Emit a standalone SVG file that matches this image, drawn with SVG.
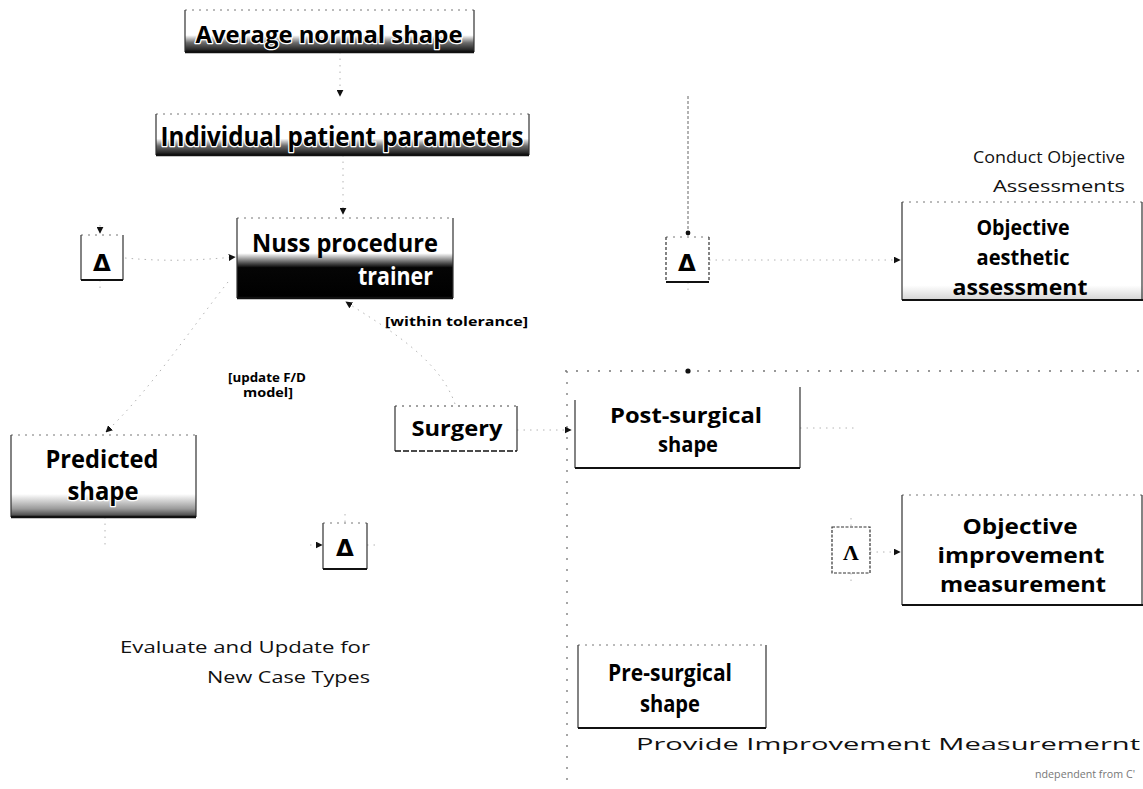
<svg xmlns="http://www.w3.org/2000/svg" width="1143" height="789" viewBox="0 0 1143 789">
  <style>
    .box-fill { stroke: none; }
    .box-top { fill: none; stroke: #777; stroke-width: 1; stroke-dasharray: 2 5; }
    .box-side { fill: none; stroke: #333; stroke-width: 1.2; }
    .box-base { fill: none; stroke: #111; stroke-width: 2.6; }
    .lbl { font-family: "Open Sans", "Liberation Sans", sans-serif; font-weight: 700; fill: #000; text-anchor: middle; }
    .halo { stroke: #fff; stroke-width: 2.5; paint-order: stroke; stroke-linejoin: round; }
    .inv { fill: #fff; text-anchor: end; }
    .note { font-family: "Open Sans", "DejaVu Sans", sans-serif; font-size: 17px; fill: #111; text-anchor: end; }
    .tiny { font-size: 10px; fill: #777; }
    .cond { font-family: "Open Sans", "Liberation Sans", sans-serif; font-weight: 700; font-size: 12px; fill: #000; }
    .delta { font-family: "DejaVu Sans", sans-serif; font-weight: 700; font-size: 23px; fill: #000; text-anchor: middle; }
    .edge { fill: none; stroke: #b4b4b4; stroke-width: 1; stroke-dasharray: 1.5 5; }
    .edge-solid { fill: none; stroke: #666; stroke-width: 1; stroke-dasharray: 3 2; }
    .frame { fill: none; stroke: #777; stroke-width: 1.3; stroke-dasharray: 2 9; }
  </style>
  <defs>
    <linearGradient id="darkBase" x1="0" y1="0" x2="0" y2="1">
      <stop offset="0" stop-color="#fff"/>
      <stop offset="0.6" stop-color="#fff"/>
      <stop offset="0.78" stop-color="#6a6a6a"/>
      <stop offset="1" stop-color="#111"/>
    </linearGradient>
    <linearGradient id="lightBase" x1="0" y1="0" x2="0" y2="1">
      <stop offset="0" stop-color="#fff"/>
      <stop offset="0.72" stop-color="#fff"/>
      <stop offset="0.9" stop-color="#9a9a9a"/>
      <stop offset="1" stop-color="#3a3a3a"/>
    </linearGradient>
    <linearGradient id="halfDark" x1="0" y1="0" x2="0" y2="1">
      <stop offset="0" stop-color="#fff"/>
      <stop offset="0.44" stop-color="#fff"/>
      <stop offset="0.56" stop-color="#555"/>
      <stop offset="0.62" stop-color="#050505"/>
      <stop offset="1" stop-color="#000"/>
    </linearGradient>
    <linearGradient id="faintBase" x1="0" y1="0" x2="0" y2="1">
      <stop offset="0" stop-color="#fff"/>
      <stop offset="0.85" stop-color="#fff"/>
      <stop offset="1" stop-color="#d4d4d4"/>
    </linearGradient>
    <marker id="tip" viewBox="0 0 10 10" refX="9" refY="5" markerWidth="7" markerHeight="7" orient="auto-start-reverse">
      <path d="M0,0 L10,5 L0,10 z" fill="#111"/>
    </marker>
  </defs>

  <!-- dotted frame around the measurement area -->
  <g id="measure-frame">
    <path class="frame" d="M565,371 H1143"/>
    <path class="frame" d="M567,371 V782"/>
    <circle cx="688" cy="371" r="2.6" fill="#111"/>
  </g>

  <!-- connectors -->
  <g id="connectors">
    <path class="edge" d="M340,52 V96" marker-end="url(#tip)"/>
    <path class="edge" d="M343,155 V214" marker-end="url(#tip)"/>
    <path class="edge" d="M125,258 C170,262 200,260 235,257" marker-end="url(#tip)"/>
    <path class="edge" d="M100,225 V233" marker-end="url(#tip)"/>
    <path class="edge" d="M100,280 V289"/>
    <path class="edge" d="M455,404 C440,360 390,330 346,302" marker-end="url(#tip)"/>
    <path class="edge" d="M228,282 C190,330 150,390 106,432" marker-end="url(#tip)"/>
    <path class="edge" d="M105,517 V546"/>
    <path class="edge" d="M310,545 H322" marker-end="url(#tip)"/>
    <path class="edge" d="M367,545 H376"/>
    <path class="edge" d="M345,514 V522"/>
    <path class="edge" d="M517,430 H571" marker-end="url(#tip)"/>
    <path class="edge" d="M800,428 H855"/>
    <path class="edge-solid" d="M688,96 V232"/>
    <circle cx="688" cy="233" r="2.4" fill="#111"/>
    <path class="edge" d="M688,282 V290"/>
    <path class="edge" d="M709,260 H900" marker-end="url(#tip)"/>
    <path class="edge" d="M851,518 V527"/>
    <path class="edge" d="M851,573 V581"/>
    <path class="edge" d="M870,552 H900" marker-end="url(#tip)"/>
  </g>

  <!-- nodes -->
  <g id="n-average">
    <rect class="box-fill" x="185" y="10" width="289" height="42" fill="url(#darkBase)"/>
    <path class="box-top" d="M185,10 H474"/>
    <path class="box-side" d="M185,10 V52 M474,10 V52"/>
    <path class="box-base" d="M185,52 H474"/>
    <text class="lbl halo" x="329" y="43" font-size="24" textLength="267" lengthAdjust="spacingAndGlyphs">Average normal shape</text>
  </g>

  <g id="n-individual">
    <rect class="box-fill" x="156" y="114" width="373" height="41" fill="url(#darkBase)"/>
    <path class="box-top" d="M156,114 H529"/>
    <path class="box-side" d="M156,114 V155 M529,114 V155"/>
    <path class="box-base" d="M156,155 H529"/>
    <text class="lbl halo" x="342" y="146" font-size="26" textLength="363" lengthAdjust="spacingAndGlyphs">Individual patient parameters</text>
  </g>

  <g id="n-nuss">
    <rect class="box-fill" x="237" y="218" width="216" height="80" fill="url(#halfDark)"/>
    <path class="box-top" d="M237,218 H453"/>
    <path class="box-side" d="M237,218 V298 M453,218 V298"/>
    <path class="box-base" d="M237,298 H453"/>
    <text class="lbl" x="345" y="252" font-size="25" textLength="186" lengthAdjust="spacingAndGlyphs">Nuss procedure</text>
    <text class="lbl inv" x="433" y="285" font-size="25" textLength="75" lengthAdjust="spacingAndGlyphs">trainer</text>
  </g>

  <g id="n-delta-left">
    <rect x="81" y="235" width="42" height="45" fill="#fff"/>
    <path class="box-top" d="M81,235 H123"/>
    <path class="box-side" d="M81,235 V280 M123,235 V280"/>
    <path class="box-base" d="M81,280 H123" style="stroke-width:1.8"/>
    <text class="delta" x="102" y="271">Δ</text>
  </g>

  <g id="n-predicted">
    <rect class="box-fill" x="11" y="435" width="185" height="82" fill="url(#lightBase)"/>
    <path class="box-top" d="M11,435 H196"/>
    <path class="box-side" d="M11,435 V517 M196,435 V517"/>
    <path class="box-base" d="M11,517 H196"/>
    <text class="lbl halo" x="102" y="468" font-size="25" textLength="113" lengthAdjust="spacingAndGlyphs">Predicted</text>
    <text class="lbl halo" x="103" y="500" font-size="25" textLength="71" lengthAdjust="spacingAndGlyphs">shape</text>
  </g>

  <g id="n-delta-bottom">
    <rect x="323" y="523" width="44" height="46" fill="#fff"/>
    <path class="box-top" d="M323,523 H367"/>
    <path class="box-side" d="M323,523 V569 M367,523 V569"/>
    <path class="box-base" d="M323,569 H367" style="stroke-width:1.8"/>
    <text class="delta" x="345" y="556">Δ</text>
  </g>

  <g id="n-surgery">
    <rect x="395" y="406" width="122" height="45" fill="#fff"/>
    <path class="box-top" d="M395,406 H517" style="stroke:#444"/>
    <path class="box-side" d="M395,406 V451 M517,406 V451"/>
    <path class="box-base" d="M395,451 H517" style="stroke-width:1.4;stroke-dasharray:6 2"/>
    <text class="lbl" x="457" y="436" font-size="21" textLength="91" lengthAdjust="spacingAndGlyphs">Surgery</text>
  </g>

  <g id="n-post">
    <rect x="575" y="387" width="225" height="81" fill="#fff"/>
    <path class="box-side" d="M575,400 V468 M800,387 V468"/>
    <path class="box-base" d="M575,468 H800" style="stroke-width:2"/>
    <text class="lbl" x="686" y="423" font-size="21" textLength="152" lengthAdjust="spacingAndGlyphs">Post-surgical</text>
    <text class="lbl" x="688" y="452" font-size="21" textLength="60" lengthAdjust="spacingAndGlyphs">shape</text>
  </g>

  <g id="n-delta-right">
    <rect x="666" y="237" width="43" height="45" fill="#fff"/>
    <path class="box-top" d="M666,237 H709"/>
    <path class="box-side" d="M666,237 V282 M709,237 V282" style="stroke-dasharray:3 2"/>
    <path class="box-base" d="M666,282 H709" style="stroke-width:1.8"/>
    <text class="delta" x="687" y="271">Δ</text>
  </g>

  <g id="n-aesthetic">
    <rect class="box-fill" x="902" y="202" width="241" height="98" fill="url(#faintBase)"/>
    <path class="box-top" d="M902,202 H1143"/>
    <path class="box-side" d="M902,202 V300 M1142,202 V300"/>
    <path class="box-base" d="M902,300 H1143" style="stroke-width:2"/>
    <text class="lbl" x="1023" y="235" font-size="22" textLength="93" lengthAdjust="spacingAndGlyphs">Objective</text>
    <text class="lbl" x="1023" y="265" font-size="22" textLength="93" lengthAdjust="spacingAndGlyphs">aesthetic</text>
    <text class="lbl" x="1020" y="295" font-size="22" textLength="135" lengthAdjust="spacingAndGlyphs">assessment</text>
  </g>

  <g id="n-lambda">
    <rect x="832" y="527" width="38" height="46" fill="#fff" stroke="#333" stroke-width="1.2" stroke-dasharray="3 1.5"/>
    <text x="851" y="560" font-family="Liberation Serif, serif" font-weight="700" font-size="22" text-anchor="middle" fill="#000">Λ</text>
  </g>

  <g id="n-improvement">
    <rect x="902" y="495" width="241" height="110" fill="#fff"/>
    <path class="box-top" d="M902,495 H1143"/>
    <path class="box-side" d="M902,495 V605 M1142,495 V605"/>
    <path class="box-base" d="M902,605 H1143" style="stroke-width:2"/>
    <text class="lbl" x="1020" y="534" font-size="21" textLength="115" lengthAdjust="spacingAndGlyphs">Objective</text>
    <text class="lbl" x="1021" y="563" font-size="21" textLength="167" lengthAdjust="spacingAndGlyphs">improvement</text>
    <text class="lbl" x="1023" y="592" font-size="21" textLength="166" lengthAdjust="spacingAndGlyphs">measurement</text>
  </g>

  <g id="n-pre">
    <rect x="578" y="645" width="188" height="83" fill="#fff"/>
    <path class="box-top" d="M578,645 H766"/>
    <path class="box-side" d="M578,645 V728 M766,645 V728"/>
    <path class="box-base" d="M578,728 H766" style="stroke-width:2"/>
    <text class="lbl" x="670" y="681" font-size="23" textLength="124" lengthAdjust="spacingAndGlyphs">Pre-surgical</text>
    <text class="lbl" x="670" y="712" font-size="23" textLength="60" lengthAdjust="spacingAndGlyphs">shape</text>
  </g>

  <!-- guard conditions -->
  <g id="guards">
    <text class="cond" x="385" y="326" textLength="143" lengthAdjust="spacingAndGlyphs">[within tolerance]</text>
    <text class="cond" x="267" y="382" text-anchor="middle" textLength="78" lengthAdjust="spacingAndGlyphs">[update F/D</text>
    <text class="cond" x="268" y="397" text-anchor="middle" textLength="50" lengthAdjust="spacingAndGlyphs">model]</text>
  </g>

  <!-- free notes -->
  <g id="notes">
    <text class="note" x="1125" y="163" textLength="152" lengthAdjust="spacingAndGlyphs">Conduct Objective</text>
    <text class="note" x="1125" y="192" textLength="132" lengthAdjust="spacingAndGlyphs">Assessments</text>
    <text class="note" x="370" y="653" textLength="250" lengthAdjust="spacingAndGlyphs">Evaluate and Update for</text>
    <text class="note" x="370" y="683" textLength="163" lengthAdjust="spacingAndGlyphs">New Case Types</text>
    <text class="note" x="1140" y="750" textLength="504" lengthAdjust="spacingAndGlyphs">Provide Improvement  Measuremernt</text>
    <text class="note tiny" x="1135" y="778" textLength="100" lengthAdjust="spacingAndGlyphs">ndependent from C'</text>
  </g>
</svg>
